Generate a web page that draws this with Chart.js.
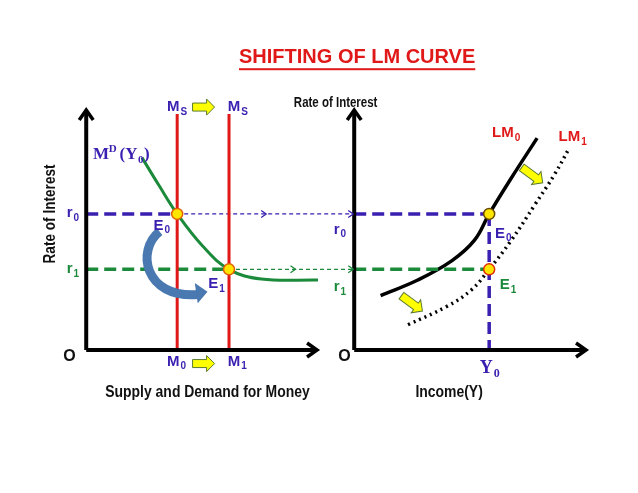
<!DOCTYPE html>
<html>
<head>
<meta charset="utf-8">
<script src="https://cdn.jsdelivr.net/npm/chart.js@4"></script>
<style>
html, body { margin: 0; padding: 0; background: #fff; }
#wrap { width: 638px; height: 493px; }
</style>
</head>
<body>
<div id="wrap"><canvas id="grafik"></canvas></div>
<script>
// diagram units: x across 0..638, y down 0..493
const r0 = 213
const r1 = 270
const m0 = 174
const m1 = 227
const y0 = 493
const leftAxisX = 81
const rightAxisX = 355
const axisTop = 108
const axisBottom = 353

const mdX = [138, 155, 174, 200, 227, 260, 318]
const mdY = [155, 183, 213, 246, 270, 280, 281]
const lm0X = [382, 420, 455, 478, 493, 515, 542]
const lm0Y = [297, 281, 261, 240, 213, 177, 135]
const lm1X = [410, 450, 475, 493, 515, 540, 560, 575]
const lm1Y = [327, 308, 291, 270, 241, 203, 172, 145]

const pts = (xs, ys) => xs.map((x, i) => ({ x: x, y: ys[i] }))
const seg = (x1, y1, x2, y2) => [{ x: x1, y: y1 }, { x: x2, y: y2 }]

const blue = '#3a1fb0'
const green = '#1b8a3a'
const red = '#e01818'

function line(data, color, width, dash, extra) {
    return Object.assign({ type: 'line', data: data, borderColor: color, borderWidth: width, borderDash: dash || [], pointRadius: 0, fill: false, tension: 0, order: 2 }, extra || {})
}

const datasets = [
    line(seg(leftAxisX, axisTop, leftAxisX, axisBottom), '#000', 4),
    line(seg(leftAxisX, axisBottom, 315, axisBottom), '#000', 4),
    line(seg(rightAxisX, axisTop, rightAxisX, axisBottom), '#000', 4),
    line(seg(rightAxisX, axisBottom, 590, axisBottom), '#000', 4),
    line(seg(m0, 110, m0, axisBottom), red, 3),
    line(seg(m1, 110, m1, axisBottom), red, 3),
    line(seg(leftAxisX, r0, m0, r0), blue, 3.5, [12, 6]),
    line(seg(m0, r0, rightAxisX, r0), blue, 1.2, [4, 3]),
    line(seg(leftAxisX, r1, m1, r1), green, 3.5, [12, 6]),
    line(seg(m1, r1, rightAxisX, r1), green, 1.2, [4, 3]),
    line(seg(rightAxisX, r0, y0, r0), blue, 3.5, [12, 6]),
    line(seg(rightAxisX, r1, y0, r1), green, 3.5, [12, 6]),
    line(seg(y0, r0, y0, axisBottom), blue, 3.5, [12, 6]),
    line(pts(mdX, mdY), green, 3, [], { tension: 0.4 }),
    line(pts(lm0X, lm0Y), '#000', 3.5, [], { tension: 0.4 }),
    line(pts(lm1X, lm1Y), '#000', 3.5, [2, 4], { tension: 0.4 }),
    { type: 'scatter', order: 0, data: pts([m0, m1, y0, y0], [r0, r1, r0, r1]), pointRadius: 5.5, pointBackgroundColor: '#ffe600', pointBorderColor: ['#e06000', '#e06000', '#6a4a00', '#e03000'], pointBorderWidth: 1.5 }
]

function txt(ctx, s, x, y, font, color, align, sub, squeeze) {
    const k = squeeze || 1
    ctx.save()
    ctx.translate(x, y)
    ctx.scale(k, 1)
    ctx.font = font
    ctx.fillStyle = color
    ctx.textAlign = align || 'center'
    ctx.textBaseline = 'middle'
    ctx.fillText(s, 0, 0)
    if (sub) {
        const w = ctx.measureText(s).width
        const ox = (align === 'left') ? w : (align === 'right' ? 0 : w / 2)
        ctx.font = font.replace(/\d+px/, m => Math.round(parseInt(m) * 0.65) + 'px')
        ctx.textAlign = 'left'
        ctx.fillText(sub, ox + 1, 5)
    }
    ctx.restore()
}

function head(ctx, x, y, ang, size, color, open) {
    ctx.save()
    ctx.translate(x, y)
    ctx.rotate(ang)
    ctx.strokeStyle = color
    ctx.lineWidth = open ? 1.3 : 3.5
    ctx.beginPath()
    ctx.moveTo(-size, -size * 0.7)
    ctx.lineTo(0, 0)
    ctx.lineTo(-size, size * 0.7)
    ctx.stroke()
    ctx.restore()
}

function yellowArrow(ctx, x, y, ang, len) {
    ctx.save()
    ctx.translate(x, y)
    ctx.rotate(ang)
    ctx.beginPath()
    ctx.moveTo(-len / 2, -4)
    ctx.lineTo(len / 2 - 8, -4)
    ctx.lineTo(len / 2 - 8, -8)
    ctx.lineTo(len / 2, 0)
    ctx.lineTo(len / 2 - 8, 8)
    ctx.lineTo(len / 2 - 8, 4)
    ctx.lineTo(-len / 2, 4)
    ctx.closePath()
    ctx.fillStyle = '#ffff00'
    ctx.fill()
    ctx.strokeStyle = '#5a7a30'
    ctx.lineWidth = 1
    ctx.stroke()
    ctx.restore()
}

const decor = {
    id: 'decor',
    afterDatasetsDraw(chart) {
        const ctx = chart.ctx
        const sx = v => chart.scales.x.getPixelForValue(v)
        const sy = v => chart.scales.y.getPixelForValue(v)
        ctx.save()
        head(ctx, sx(leftAxisX), sy(axisTop - 2), -Math.PI / 2, 10, '#000')
        head(ctx, sx(317), sy(axisBottom), 0, 10, '#000')
        head(ctx, sx(rightAxisX), sy(axisTop - 2), -Math.PI / 2, 10, '#000')
        head(ctx, sx(592), sy(axisBottom), 0, 10, '#000')
        head(ctx, sx(265), sy(r0), 0, 5, blue, true)
        head(ctx, sx(rightAxisX - 1), sy(r0), 0, 5, blue, true)
        head(ctx, sx(295), sy(r1), 0, 5, green, true)
        head(ctx, sx(rightAxisX - 1), sy(r1), 0, 5, green, true)

        // blue curved arrow
        ctx.beginPath()
        ctx.moveTo(sx(156), sy(231))
        ctx.bezierCurveTo(sx(132), sy(250), sx(140), sy(300), sx(195), sy(296))
        ctx.lineWidth = 9
        ctx.strokeStyle = '#4a78b0'
        ctx.lineCap = 'butt'
        ctx.stroke()
        ctx.beginPath()
        ctx.moveTo(sx(192), sy(284))
        ctx.lineTo(sx(205), sy(293))
        ctx.lineTo(sx(195), sy(305))
        ctx.closePath()
        ctx.fillStyle = '#4a78b0'
        ctx.fill()

        yellowArrow(ctx, sx(201), sy(103), 0, 22)
        yellowArrow(ctx, sx(201), sy(367), 0, 22)
        yellowArrow(ctx, sx(537), sy(173), Math.PI / 5, 26)
        yellowArrow(ctx, sx(414), sy(305), Math.PI / 5, 26)

        txt(ctx, 'SHIFTING OF LM CURVE', sx(358), sy(52), 'bold 20px "Liberation Sans", Arial', red)
        ctx.font = 'bold 20px "Liberation Sans", Arial'
        const tw = ctx.measureText('SHIFTING OF LM CURVE').width
        ctx.fillStyle = red
        ctx.fillRect(sx(358) - tw / 2, sy(63), tw, 2)

        const b = 'bold 15px "Liberation Sans", Arial'
        const n = 'bold 17px "Liberation Sans", Arial'
        txt(ctx, 'M', sx(170), sy(103), b, blue, 'center', 'S')
        txt(ctx, 'M', sx(232), sy(103), b, blue, 'center', 'S')
        txt(ctx, 'M', sx(170), sy(365), b, blue, 'center', '0')
        txt(ctx, 'M', sx(232), sy(365), b, blue, 'center', '1')
        txt(ctx, 'Rate of Interest', sx(336), sy(99), 'bold 14px "Liberation Sans", Arial', '#111', 'center', null, 0.82)

        ctx.textBaseline = 'alphabetic'
        ctx.font = 'bold 17px "Liberation Serif", serif'
        ctx.fillStyle = blue
        ctx.textAlign = 'left'
        ctx.fillText('M', sx(88), sy(156))
        ctx.font = 'bold 11px "Liberation Serif", serif'
        ctx.fillText('D', sx(104), sy(149))
        ctx.font = 'bold 17px "Liberation Serif", serif'
        ctx.fillText('(Y', sx(115), sy(156))
        ctx.font = 'bold 11px "Liberation Serif", serif'
        ctx.fillText('0', sx(134), sy(161))
        ctx.font = 'bold 17px "Liberation Serif", serif'
        ctx.fillText(')', sx(140), sy(156))

        ctx.save()
        ctx.translate(sx(44), sy(213))
        ctx.rotate(-Math.PI / 2)
        txt(ctx, 'Rate of Interest', 0, 0, n, '#111', 'center', null, 0.8)
        ctx.restore()

        txt(ctx, 'r', sx(64), sy(212), b, blue, 'center', '0')
        txt(ctx, 'r', sx(64), sy(270), b, green, 'center', '1')
        txt(ctx, 'r', sx(337), sy(229), b, blue, 'center', '0')
        txt(ctx, 'r', sx(337), sy(288), b, green, 'center', '1')
        txt(ctx, 'E', sx(155), sy(225), b, blue, 'center', '0')
        txt(ctx, 'E', sx(211), sy(285), b, blue, 'center', '1')
        txt(ctx, 'E', sx(504), sy(233), b, blue, 'center', '0')
        txt(ctx, 'E', sx(509), sy(286), b, green, 'center', '1')
        txt(ctx, 'LM', sx(507), sy(130), b, red, 'center', '0')
        txt(ctx, 'LM', sx(575), sy(134), b, red, 'center', '1')
        txt(ctx, 'O', sx(64), sy(360), 'bold 16px "Liberation Sans", Arial', '#111')
        txt(ctx, 'O', sx(345), sy(360), 'bold 16px "Liberation Sans", Arial', '#111')
        txt(ctx, 'Y', sx(490), sy(372), 'bold 18px "Liberation Serif", serif', blue, 'center', '0')
        txt(ctx, 'Supply and Demand for Money', sx(205), sy(397), n, '#111', 'center', null, 0.82)
        txt(ctx, 'Income(Y)', sx(452), sy(397), n, '#111', 'center', null, 0.82)
        ctx.restore()
    }
}

const ctx = document.getElementById('grafik')
const myChart = new Chart(ctx, {
    data: { datasets: datasets },
    options: {
        responsive: true,
        maintainAspectRatio: false,
        animation: false,
        layout: { padding: 0 },
        plugins: { legend: { display: false }, tooltip: { enabled: false } },
        scales: {
            x: { type: 'linear', min: 0, max: 638, display: false },
            y: { type: 'linear', min: 0, max: 493, reverse: true, display: false }
        }
    },
    plugins: [decor]
})
</script>
</body>
</html>
